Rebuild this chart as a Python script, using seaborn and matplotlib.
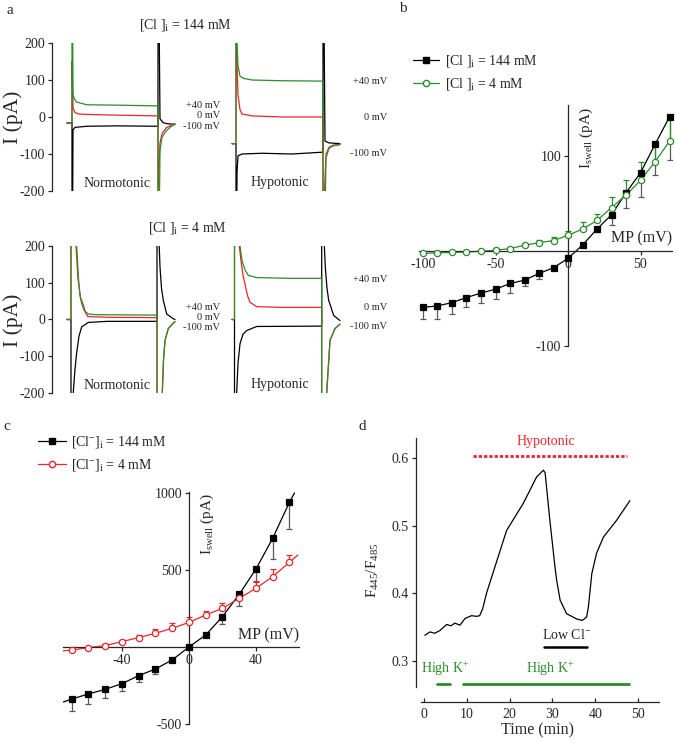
import matplotlib
matplotlib.use('Agg')
import matplotlib.pyplot as plt
import seaborn as sns
from matplotlib.lines import Line2D

# ---------------- data ----------------
# panel a: whole-cell current traces (time in ms from sweep start, current in pA)
# [Cl]i = 144 mM, normotonic
a1n_p40_t = [0, 5, 5, 6, 8, 10, 20, 50, 91, 91, 93, 95, 99, 104, 108]
a1n_p40_i = [-16, -16, 600, 60, 45, 40, 33, 32, 30, -600, -90, -55, -38, -26, -20]
a1n_0_t = [0, 5, 5, 6, 8, 12, 20, 50, 91, 91, 93, 95, 99, 104, 108]
a1n_0_i = [-16, -16, 150, 25, 12, 8, 7, 5, 3, -200, -70, -45, -30, -22, -18]
a1n_m100_t = [0, 5, 5, 6, 8, 20, 50, 91, 91, 93, 96, 100, 108]
a1n_m100_i = [-16, -16, -600, -35, -28, -25, -24, -25, 600, -5, -15, -18, -20]
# [Cl]i = 144 mM, hypotonic
a1h_p40_t = [0, 4, 4, 5, 6, 8, 12, 20, 50, 91, 91, 94, 97, 101, 108]
a1h_p40_i = [-72, -72, 600, 200, 140, 110, 104, 100, 98, 97, -600, -110, -85, -78, -75]
a1h_0_t = [0, 4, 4, 5, 6, 8, 10, 20, 50, 91, 91, 94, 97, 101, 108]
a1h_0_i = [-72, -72, 400, 150, 60, 20, 8, 3, 0, 0, -300, -100, -82, -76, -74]
a1h_m100_t = [0, 4, 4, 5, 6, 10, 30, 60, 91, 91, 93, 97, 108]
a1h_m100_i = [-72, -72, -600, -150, -105, -100, -98, -100, -95, 600, -65, -70, -72]
# [Cl]i = 4 mM, normotonic
a2n_p40_t = [0, 4, 4, 8, 9.7, 11.5, 13, 14.7, 17, 21.3, 30, 90, 90, 93.5, 95.3, 96.5, 98, 101.3, 106.3, 108]
a2n_p40_i = [0, 0, 600, 300, 200, 110, 65, 43, 25, 15, 13, 12, -600, -320, -200, -110, -57, -24, -9, -5]
a2n_0_t = [0, 4, 4, 7.5, 9, 11, 13.5, 16.3, 18.5, 21, 40, 90, 90, 93.5, 95.3, 96.5, 98, 101.3, 106.3, 108]
a2n_0_i = [0, 0, 500, 300, 200, 110, 60, 40, 18, 8, 6, 5, -600, -300, -198, -110, -57, -25, -10, -6]
a2n_m100_t = [0, 4, 4, 6.3, 8, 9.7, 12, 14.7, 21.3, 40, 90, 90, 91.5, 93, 94.5, 96.3, 99.7, 106.3, 108]
a2n_m100_i = [0, 0, -600, -198, -135, -90, -45, -20, -8, -5, -5, 600, 250, 143, 85, 52, 15, 2, 0]
# [Cl]i = 4 mM, hypotonic
a2h_p40_t = [0, 2.5, 2.5, 6.5, 8, 10, 13, 16.3, 25, 60, 89.7, 89.7, 94.7, 98, 103, 108]
a2h_p40_i = [0, 0, 600, 300, 200, 160, 135, 120, 114, 112, 112, -600, -200, -57, -24, -13]
a2h_0_t = [0, 2.5, 2.5, 6, 7.3, 9, 11, 13, 15.5, 18, 24.7, 50, 89.7, 89.7, 94.7, 98, 103, 108]
a2h_0_i = [0, 0, 600, 300, 200, 160, 120, 97, 65, 47, 35, 33, 33, -600, -198, -57, -25, -13]
a2h_m100_t = [0, 2.5, 2.5, 4.7, 6, 8, 11, 14.7, 24.7, 89.7, 89.7, 91.5, 93.3, 95, 96.7, 101.7, 108]
a2h_m100_i = [0, 0, -600, -198, -120, -66, -40, -30, -19, -18, 600, 250, 143, 85, 52, 11, -3]
hypo_offset = 165
step_labels = ['+40 mV', '0 mV', '-100 mV']

# panel b: I-V, membrane potential (mV) vs Iswell (pA)
mp_b = [-100, -90, -80, -70, -60, -50, -40, -30, -20, -10, 0, 10, 20, 30, 40, 50, 60, 70]
b_144 = [-59, -57.5, -54, -48.7, -44, -40, -34, -30.5, -23.5, -17.5, -7.7, 6.3, 23, 38, 61, 82, 111.7, 140.6]
b_144_err = [12.6, 13.5, 11.5, 10, 10, 10, 9.8, 6.3, 6, 2.5, 0, 0, 3, 10.5, 16.4, 25, 32, 45]
b_4 = [-2.5, -1.8, -1.5, -1, -0.2, 0.8, 2.6, 6, 8.8, 11, 16.5, 23, 32, 45.6, 58.6, 74, 93.5, 115]
b_4_err = [1, 1, 1, 1, 1.5, 2, 2, 2.5, 3, 3.5, 5, 7, 7, 10.5, 15.7, 19, 18, 25]

# panel c: I-V
mp_c = [-70, -60, -50, -40, -30, -20, -10, 0, 10, 20, 30, 40, 50, 60]
c_144 = [-338, -305, -275, -238, -186, -143, -84, 0, 78, 197, 342, 506, 706, 940]
c_144_err = [76, 65, 58, 48, 39, 35, 0, 0, 0, 50, 74, 85, 136, 175]
c_4 = [-19.5, -4, 8.7, 35, 61, 89, 121, 160, 208, 251, 316, 381, 457, 550]
c_4_err = [5, 5, 8, 10, 15, 26, 32, 32, 26, 37, 25, 48, 48, 48]
c_fit_ends_x = [-75, 63]
c_144_fit_ends = [-357, 1000]
c_4_fit_ends_x = [-75, 65]
c_4_fit_ends = [-25, 597]

# panel d: ratio trace
time_d = [0.2, 1.4, 2.5, 3.7, 5.3, 6.3, 7.2, 8.4, 9.6, 11.1, 12.3, 13.0, 13.7, 14.6, 15.6, 19.3, 23.2,
          26.3, 27.9, 28.3, 29.4, 30.6, 31.0, 31.8, 33.3, 35.7, 37.0, 38.0, 38.4, 38.8, 39.2, 40.3,
          41.9, 45.0, 48.1]
ratio_d = [0.338, 0.343, 0.341, 0.345, 0.354, 0.352, 0.356, 0.353, 0.363, 0.367, 0.366, 0.367, 0.377,
           0.400, 0.42, 0.493, 0.533, 0.572, 0.582, 0.578, 0.508, 0.439, 0.419, 0.390, 0.370, 0.362,
           0.360, 0.365, 0.380, 0.404, 0.429, 0.459, 0.483, 0.508, 0.537]
hypo_bar = [11.5, 47.4]
lowcl_bar = [28, 38]
highk_bars = [[3, 6], [9.2, 48]]

# ---------------- style ----------------
sns.set_style('ticks')
plt.rcParams['font.family'] = ['Liberation Serif', 'DejaVu Serif']
plt.rcParams['mathtext.fontset'] = 'custom'
plt.rcParams['mathtext.rm'] = 'Liberation Serif'
plt.rcParams['mathtext.it'] = 'Liberation Serif:italic'
plt.rcParams['axes.unicode_minus'] = False
plt.rcParams['axes.linewidth'] = 0.9
plt.rcParams['xtick.major.width'] = 0.9
plt.rcParams['ytick.major.width'] = 0.9
plt.rcParams['xtick.major.size'] = 3
plt.rcParams['ytick.major.size'] = 3

GREEN = '#2a8c2a'
RED = '#e8262c'
MS = 4.0
W, H = 675, 745
fig = plt.figure(figsize=(W / 100, H / 100), dpi=100)


def box(x0, y0, x1, y1):
    return [x0 / W, 1 - y1 / H, (x1 - x0) / W, (y1 - y0) / H]


def ftext(x, y, s, **kw):
    fig.text(x / W, 1 - y / H, s, **kw)


def trace(ax, t, i, color, off=0):
    sns.lineplot(x=[v + off for v in t], y=i, color=color, lw=0.9, ax=ax,
                 estimator=None, sort=False)


# ---------------- panel a ----------------
rows = [
    (box(52, 43, 345, 191),
     [(a1n_m100_t, a1n_m100_i, 'k'), (a1n_0_t, a1n_0_i, RED), (a1n_p40_t, a1n_p40_i, GREEN)],
     [(a1h_m100_t, a1h_m100_i, 'k'), (a1h_0_t, a1h_0_i, RED), (a1h_p40_t, a1h_p40_i, GREEN)],
     r'[Cl ]$_{\mathrm{i}}$ = 144 mM', [32, 5, -27], [95, 0, -100], 118),
    (box(52, 246, 345, 393),
     [(a2n_m100_t, a2n_m100_i, 'k'), (a2n_0_t, a2n_0_i, RED), (a2n_p40_t, a2n_p40_i, GREEN)],
     [(a2h_m100_t, a2h_m100_i, 'k'), (a2h_0_t, a2h_0_i, RED), (a2h_p40_t, a2h_p40_i, GREEN)],
     r'[Cl ]$_{\mathrm{i}}$ = 4 mM', [32, 5, -22], [108, 32, -19], 120),
]
for rect, norm, hypo, title, lab_n, lab_h, tx in rows:
    ax = fig.add_axes(rect)
    for t, i, c in norm:
        trace(ax, t, i, c)
    for t, i, c in hypo:
        trace(ax, t, i, c, hypo_offset)
    ax.set_xlim(-15, 278)
    ax.set_ylim(-200, 200)
    for s in ['top', 'right', 'bottom']:
        ax.spines[s].set_visible(False)
    ax.set_xticks([])
    ax.set_yticks([-200, -100, 0, 100, 200])
    ax.tick_params(axis='y', labelsize=10, pad=2)
    ax.set_xlabel('')
    ax.set_ylabel('')
    for lab, yv in zip(step_labels, lab_n):
        ax.text(153, yv, lab, ha='right', va='center', fontsize=7.5, clip_on=False)
    for lab, yv in zip(step_labels, lab_h):
        ax.text(320, yv, lab, ha='right', va='center', fontsize=7.5, clip_on=False)
    ax.text(tx, 249, title, ha='center', va='center', fontsize=10, clip_on=False)
    ax.text(50, -180, 'Normotonic', ha='center', va='center', fontsize=10)
    ax.text(213, -177, 'Hypotonic', ha='center', va='center', fontsize=10)

ftext(13.5, 117, 'I (pA)', rotation=90, ha='center', va='center', fontsize=15.5)
ftext(13.5, 320, 'I (pA)', rotation=90, ha='center', va='center', fontsize=15.5)


def iv_axes(ax):
    ax.spines['left'].set_position(('data', 0))
    ax.spines['bottom'].set_position(('data', 0))
    ax.spines['top'].set_visible(False)
    ax.spines['right'].set_visible(False)
    ax.tick_params(labelsize=10, pad=2)
    ax.set_xlabel('')
    ax.set_ylabel('')


def iv_series(ax, x, y, err, color, marker, up, fit=None):
    zeros = [0] * len(err)
    yerr = [zeros, err] if up else [err, zeros]
    ecol = color if up else '0.35'
    ax.errorbar(x, y, yerr=yerr, fmt='none', ecolor=ecol, elinewidth=0.9,
                capsize=2.0, capthick=0.9, zorder=2)
    if fit is not None:
        fx, fy = fit
        sns.lineplot(x=[fx[0]] + x + [fx[1]], y=[fy[0]] + y + [fy[1]], color=color,
                     lw=0.9, ax=ax, estimator=None, sort=False, zorder=2.5)
    else:
        sns.lineplot(x=x, y=y, color=color, lw=0.9, ax=ax, estimator=None, zorder=2.5)
    face = color if marker == 's' else 'white'
    ax.plot(x, y, ls='none', marker=marker, ms=MS if marker == 's' else MS + 0.5,
            mfc=face, mec=color, mew=0.9, zorder=3, clip_on=False)


# ---------------- panel b ----------------
axb = fig.add_axes(box(418.65, 105, 672.4, 346.5))
iv_series(axb, mp_b, b_144, b_144_err, 'k', 's', False)
iv_series(axb, mp_b, b_4, b_4_err, GREEN, 'o', True)
axb.set_xlim(-103, 72)
axb.set_ylim(-100, 153)
iv_axes(axb)
axb.set_xticks([-100, -50, 0, 50])
axb.set_yticks([-100, 100])
axb.text(7, 151, r'I$_{\mathrm{swell}}$ (pA)', rotation=90, ha='left', va='top', fontsize=11)
axb.text(71.7, 5, 'MP (mV)', ha='right', va='bottom', fontsize=11.5)

hb = [Line2D([], [], color='k', marker='s', ms=MS, lw=0.9),
      Line2D([], [], color=GREEN, marker='o', ms=MS + 0.5, mfc='white', mec=GREEN, lw=0.9)]
fig.legend(hb, [r'[Cl ]$_{\mathrm{i}}$ = 144 mM', r'[Cl ]$_{\mathrm{i}}$ = 4 mM'],
           loc='upper left', bbox_to_anchor=(413 / W, 1 - 53 / H), frameon=False,
           fontsize=10, handlelength=1.9, handletextpad=0.4, labelspacing=0.5,
           borderpad=0, borderaxespad=0)

# ---------------- panel c ----------------
axc = fig.add_axes(box(63, 492.2, 299, 724.3))
iv_series(axc, mp_c, c_144, c_144_err, 'k', 's', False, (c_fit_ends_x, c_144_fit_ends))
iv_series(axc, mp_c, c_4, c_4_err, RED, 'o', True, (c_4_fit_ends_x, c_4_fit_ends))
axc.set_xlim(-75.2, 65.7)
axc.set_ylim(-502, 1005)
iv_axes(axc)
axc.set_xticks([-40, 0, 40])
axc.set_yticks([-500, 500, 1000])
axc.text(6, 1000, r'I$_{\mathrm{swell}}$ (pA)', rotation=90, ha='left', va='top', fontsize=11)
axc.text(65.7, 26, 'MP (mV)', ha='right', va='bottom', fontsize=11.5)

hc = [Line2D([], [], color='k', marker='s', ms=MS, lw=0.9),
      Line2D([], [], color=RED, marker='o', ms=MS + 0.5, mfc='white', mec=RED, lw=0.9)]
fig.legend(hc, [r'[Cl$^{-}$]$_{\mathrm{i}}$ = 144 mM', r'[Cl$^{-}$]$_{\mathrm{i}}$ = 4 mM'],
           loc='upper left', bbox_to_anchor=(38 / W, 1 - 434 / H), frameon=False,
           fontsize=10, handlelength=2.0, handletextpad=0.4, labelspacing=0.5,
           borderpad=0, borderaxespad=0)

# ---------------- panel d ----------------
axd = fig.add_axes(box(416, 438, 659, 702))
sns.lineplot(x=time_d, y=ratio_d, color='k', lw=0.9, ax=axd, estimator=None, sort=False)
axd.plot(hypo_bar, [0.603, 0.603], color=RED, lw=2, ls=(0, (1.2, 0.7)))
axd.text(sum(hypo_bar) / 2 - 1, 0.624, 'Hypotonic', color=RED, ha='center', va='center', fontsize=10)
axd.plot(lowcl_bar, [0.32, 0.32], color='k', lw=1.8)
axd.text(33.3, 0.339, r'Low Cl$^{-}$', ha='center', va='center', fontsize=10)
for (x0, x1), xt in zip(highk_bars, [4.9, 29.5]):
    axd.plot([x0, x1], [0.266, 0.266], color=GREEN, lw=2)
    axd.text(xt, 0.289, r'High K$^{+}$', color=GREEN, ha='center', va='center', fontsize=10)
axd.set_xlim(-1.87, 54.9)
axd.set_ylim(0.2394, 0.6296)
axd.spines['top'].set_visible(False)
axd.spines['right'].set_visible(False)
axd.spines['left'].set_bounds(0.2616, 0.6296)
axd.spines['bottom'].set_bounds(-0.7, 54.9)
axd.set_xticks([0, 10, 20, 30, 40, 50])
axd.set_yticks([0.3, 0.4, 0.5, 0.6])
axd.set_yticklabels(['0.3', '0.4', '0.5', '0.6'])
axd.tick_params(axis='x', direction='in', labelsize=10, pad=4)
axd.tick_params(axis='y', labelsize=10, pad=2)
axd.set_xlabel('Time (min)', fontsize=11.5, labelpad=1)
axd.set_ylabel(r'F$_{445}$/F$_{485}$', fontsize=11, labelpad=8)

# panel letters
ftext(10, 10, 'a', ha='center', va='center', fontsize=11)
ftext(403, 9, 'b', ha='center', va='center', fontsize=11)
ftext(7, 427, 'c', ha='center', va='center', fontsize=11)
ftext(362, 427, 'd', ha='center', va='center', fontsize=11)

fig.savefig('out.png', dpi=100)
